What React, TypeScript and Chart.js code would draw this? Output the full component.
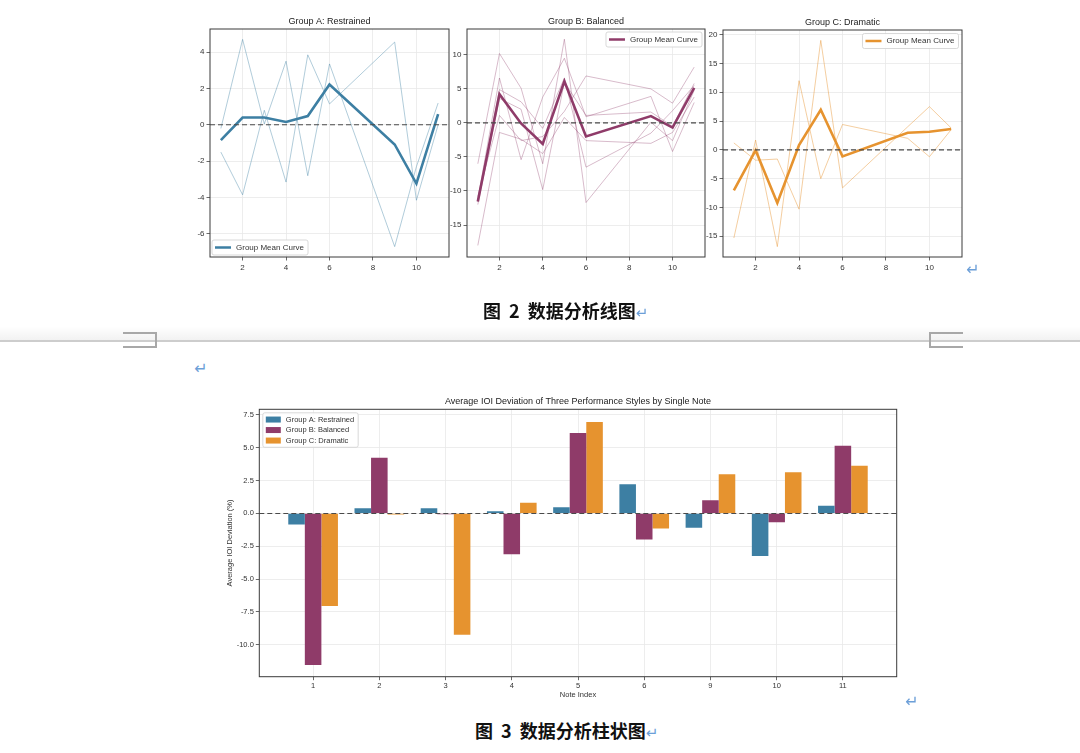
import { useEffect, useRef } from "react";
import { Chart, registerables } from "chart.js";
import type { ChartConfiguration, Plugin } from "chart.js";

Chart.register(...registerables);

const FONT = '"Liberation Sans", Arial, Helvetica, sans-serif';
const CJK = '"Noto Sans CJK SC", "Noto Sans", sans-serif';

Chart.defaults.font.family = FONT;
Chart.defaults.color = "#333";

// measured notes (7 and 8 are not in the data)
const notes = [1, 2, 3, 4, 5, 6, 9, 10, 11];
const noteLabels = ["1", "2", "3", "4", "5", "6", "9", "10", "11"];

// group means, also used for the bars
const meanA = [-0.84, 0.4, 0.4, 0.16, 0.48, 2.22, -1.08, -3.23, 0.59];
const meanB = [-11.53, 4.23, -0.07, -3.1, 6.13, -1.98, 1.01, -0.68, 5.15];
const meanC = [-7.05, -0.08, -9.23, 0.82, 6.96, -1.14, 2.98, 3.14, 3.63];

// single performances
const a1 = [-0.2, 4.7, 0.05, 3.5, -2.8, 3.35, -6.7, -2.3, 1.2];
const a2 = [-1.5, -3.85, 0.8, -3.15, 3.85, 1.15, 4.55, -4.15, 0.0];

const b1 = [-6.0, 10.2, 5.1, -6.0, 12.3, -11.7, 0.1, -2.6, 4.8];
const b2 = [-10.8, 1.1, -2.6, -2.0, 1.7, 6.9, 5.0, 2.9, 8.2];
const b3 = [-11.2, 6.6, -5.4, 3.8, 9.5, 0.9, 3.9, -4.2, 3.0];
const b4 = [-11.6, 4.9, 3.1, -0.8, 6.6, -6.5, -1.5, 1.8, 5.5];
const b5 = [-12.0, 3.6, 2.0, -9.8, 6.0, 1.1, 1.6, -0.5, 5.8];
const b6 = [-18.0, -1.4, -2.4, -4.5, 0.8, -2.6, -3.0, -1.4, 3.8];

const c1 = [1.2, -1.8, -1.6, -10.3, 19.0, -6.6, 4.0, 7.5, 3.8];
const c2 = [-15.3, 1.7, -16.8, 12.0, -5.0, 4.4, 2.0, -1.2, 3.5];

// ticks
const lineXTicks = [2, 4, 6, 8, 10];
const yTicksA = [-6, -4, -2, 0, 2, 4];
const yTicksB = [-15, -10, -5, 0, 5, 10];
const yTicksC = [-15, -10, -5, 0, 5, 10, 15, 20];
const barYTicks = [-10, -7.5, -5, -2.5, 0, 2.5, 5, 7.5];

const colorA = "#3d7fa3";
const colorB = "#8f3b69";
const colorC = "#e6932f";
const RET = "#6c9fd8";

function fade(hex: string, a: number) {
  const n = parseInt(hex.slice(1), 16);
  return `rgba(${(n >> 16) & 255}, ${(n >> 8) & 255}, ${n & 255}, ${a})`;
}

const grid = {
  color: "#e8e8e8",
  lineWidth: 0.8,
  tickColor: "#444",
  tickLength: 3.5,
  tickWidth: 0.8,
  offset: false,
};

function framePlugin(): Plugin {
  return {
    id: "frame",
    afterDatasetsDraw(chart) {
      const { ctx, chartArea: a } = chart;
      ctx.save();
      ctx.strokeStyle = "#3a3a3a";
      ctx.lineWidth = 1;
      ctx.strokeRect(a.left, a.top, a.right - a.left, a.bottom - a.top);
      ctx.restore();
    },
  };
}

function zeroLinePlugin(): Plugin {
  return {
    id: "zeroLine",
    afterDatasetsDraw(chart) {
      const { ctx, chartArea: a, scales } = chart;
      const y = scales.y.getPixelForValue(0);
      ctx.save();
      ctx.beginPath();
      ctx.setLineDash([5, 3]);
      ctx.strokeStyle = "#4a4a4a";
      ctx.lineWidth = 1.1;
      ctx.moveTo(a.left, y);
      ctx.lineTo(a.right, y);
      ctx.stroke();
      ctx.restore();
    },
  };
}

function titlePlugin(text: string, size: number, offset: number): Plugin {
  return {
    id: "axesTitle",
    afterDraw(chart) {
      const { ctx, chartArea: a } = chart;
      ctx.save();
      ctx.font = `${size}px ${FONT}`;
      ctx.fillStyle = "#222";
      ctx.textAlign = "center";
      ctx.textBaseline = "middle";
      ctx.fillText(text, (a.left + a.right) / 2, a.top - offset);
      ctx.restore();
    },
  };
}

type LegendSpec = {
  entries: { label: string; color: string }[];
  corner: "ul" | "ur" | "ll";
  swatch: "line" | "box";
  fontSize: number;
  rowH: number;
  padY: number;
  inset: number;
};

function legendPlugin(spec: LegendSpec): Plugin {
  return {
    id: "innerLegend",
    afterDraw(chart) {
      const { ctx, chartArea: a } = chart;
      ctx.save();
      ctx.font = `${spec.fontSize}px ${FONT}`;
      const textW = Math.max(...spec.entries.map((e) => ctx.measureText(e.label).width));
      const padX = 3;
      const sw = spec.swatch === "line" ? 16 : 15;
      const gap = 5;
      const w = padX + sw + gap + textW + padX + 1;
      const h = spec.padY * 2 + spec.entries.length * spec.rowH;
      const x = spec.corner === "ur" ? a.right - spec.inset - w : a.left + spec.inset;
      const y = spec.corner === "ll" ? a.bottom - spec.inset - h : a.top + spec.inset;
      ctx.beginPath();
      ctx.roundRect(x, y, w, h, 2);
      ctx.fillStyle = "rgba(255,255,255,0.85)";
      ctx.fill();
      ctx.strokeStyle = "#cfcfcf";
      ctx.lineWidth = 0.8;
      ctx.stroke();
      spec.entries.forEach((e, i) => {
        const cy = y + spec.padY + spec.rowH * (i + 0.5);
        if (spec.swatch === "line") {
          ctx.beginPath();
          ctx.strokeStyle = e.color;
          ctx.lineWidth = 2.5;
          ctx.moveTo(x + padX, cy);
          ctx.lineTo(x + padX + sw, cy);
          ctx.stroke();
        } else {
          ctx.fillStyle = e.color;
          ctx.fillRect(x + padX, cy - 3, sw, 6);
        }
        ctx.fillStyle = "#333";
        ctx.textAlign = "left";
        ctx.textBaseline = "middle";
        ctx.fillText(e.label, x + padX + sw + gap, cy);
      });
      ctx.restore();
    },
  };
}

type LineSpec = {
  title: string;
  color: string;
  mean: number[];
  members: number[][];
  memberAlpha: number;
  yMin: number;
  yMax: number;
  yTicks: number[];
  axisW: number;
  padTop: number;
  legend: "ll" | "ur";
  inset: number;
};

function lineConfig(spec: LineSpec): ChartConfiguration {
  const toPts = (ys: number[]) => notes.map((x, i) => ({ x, y: ys[i] }));
  return {
    type: "line",
    data: {
      datasets: [
        { data: toPts(spec.mean), borderColor: spec.color, borderWidth: 2.6 },
        ...spec.members.map((m) => ({
          data: toPts(m),
          borderColor: fade(spec.color, spec.memberAlpha),
          borderWidth: 1,
        })),
      ],
    },
    options: {
      animation: false,
      responsive: true,
      maintainAspectRatio: false,
      events: [],
      elements: { point: { radius: 0 }, line: { tension: 0 } },
      layout: { padding: { top: spec.padTop, right: 6, bottom: 1, left: 0 } },
      plugins: { legend: { display: false }, tooltip: { enabled: false } },
      scales: {
        x: {
          type: "linear",
          min: 0.5,
          max: 11.5,
          afterBuildTicks: (s: any) => {
            s.ticks = lineXTicks.map((value) => ({ value }));
          },
          afterFit: (s: any) => {
            s.height = 16;
          },
          grid,
          border: { display: false },
          ticks: {
            font: { size: 8 },
            color: "#333",
            padding: 2,
            maxRotation: 0,
            autoSkip: false,
            callback: (v: any) => String(v),
          },
        },
        y: {
          type: "linear",
          min: spec.yMin,
          max: spec.yMax,
          afterBuildTicks: (s: any) => {
            s.ticks = spec.yTicks.map((value) => ({ value }));
          },
          afterFit: (s: any) => {
            s.width = spec.axisW;
          },
          grid,
          border: { display: false },
          ticks: {
            font: { size: 8 },
            color: "#333",
            padding: 2,
            autoSkip: false,
            callback: (v: any) => String(v),
          },
        },
      },
    },
    plugins: [
      zeroLinePlugin(),
      framePlugin(),
      titlePlugin(spec.title, 9, 7.5),
      legendPlugin({
        entries: [{ label: "Group Mean Curve", color: spec.color }],
        corner: spec.legend,
        swatch: "line",
        fontSize: 8,
        rowH: 10,
        padY: 2.5,
        inset: spec.inset,
      }),
    ],
  } as ChartConfiguration;
}

function barConfig(): ChartConfiguration {
  const toBars = (ys: number[]) => noteLabels.map((_, i) => ({ x: i, y: ys[i] }));
  return {
    type: "bar",
    data: {
      datasets: [
        { label: "Group A: Restrained", data: toBars(meanA), backgroundColor: colorA },
        { label: "Group B: Balanced", data: toBars(meanB), backgroundColor: colorB },
        { label: "Group C: Dramatic", data: toBars(meanC), backgroundColor: colorC },
      ],
    },
    options: {
      animation: false,
      responsive: true,
      maintainAspectRatio: false,
      events: [],
      layout: { padding: { top: 17.3, right: 13.3, bottom: 10.3, left: 0 } },
      datasets: { bar: { categoryPercentage: 0.75, barPercentage: 1 } },
      plugins: { legend: { display: false }, tooltip: { enabled: false } },
      scales: {
        x: {
          type: "linear",
          min: -0.8125,
          max: 8.8125,
          offset: false,
          afterBuildTicks: (s: any) => {
            s.ticks = noteLabels.map((_, value) => ({ value }));
          },
          afterFit: (s: any) => {
            s.height = 23;
          },
          grid,
          border: { display: false },
          ticks: {
            font: { size: 7.5 },
            color: "#333",
            padding: 1,
            maxRotation: 0,
            autoSkip: false,
            callback: (v: any) => noteLabels[Number(v)],
          },
          title: {
            display: true,
            text: "Note Index",
            font: { size: 7.5 },
            color: "#333",
            padding: { top: 0, bottom: 0 },
          },
        },
        y: {
          type: "linear",
          min: -12.425,
          max: 7.925,
          afterBuildTicks: (s: any) => {
            s.ticks = barYTicks.map((value) => ({ value }));
          },
          afterFit: (s: any) => {
            s.width = 39.3;
          },
          grid,
          border: { display: false },
          ticks: {
            font: { size: 7.5 },
            color: "#333",
            padding: 2,
            autoSkip: false,
            callback: (v: any) => Number(v).toFixed(1),
          },
          title: {
            display: true,
            text: "Average IOI Deviation (%)",
            font: { size: 7.5 },
            color: "#333",
            padding: { top: 5.5, bottom: 0 },
          },
        },
      },
    },
    plugins: [
      zeroLinePlugin(),
      framePlugin(),
      titlePlugin("Average IOI Deviation of Three Performance Styles by Single Note", 9, 7.3),
      legendPlugin({
        entries: [
          { label: "Group A: Restrained", color: colorA },
          { label: "Group B: Balanced", color: colorB },
          { label: "Group C: Dramatic", color: colorC },
        ],
        corner: "ul",
        swatch: "box",
        fontSize: 7.5,
        rowH: 10.5,
        padY: 1.5,
        inset: 3.5,
      }),
    ],
  } as ChartConfiguration;
}

type BoxProps = {
  left: number;
  top: number;
  width: number;
  height: number;
  make: () => ChartConfiguration;
};

function ChartBox({ left, top, width, height, make }: BoxProps) {
  const canvasRef = useRef<HTMLCanvasElement | null>(null);

  useEffect(() => {
    if (!canvasRef.current) return;
    const chart = new Chart(canvasRef.current, make());
    return () => {
      chart.destroy();
    };
  }, []);

  return (
    <div style={{ position: "absolute", left, top, width, height }}>
      <canvas ref={canvasRef} />
    </div>
  );
}

function ReturnMark({ x, y }: { x: number; y: number }) {
  return (
    <div
      style={{
        position: "absolute",
        left: x,
        top: y,
        transform: "translate(-50%, -50%)",
        font: `16px "DejaVu Sans", sans-serif`,
        lineHeight: 1,
        color: RET,
      }}
    >
      ↵
    </div>
  );
}

function Caption({ left, top, text }: { left: number; top: number; text: string }) {
  return (
    <div
      style={{
        position: "absolute",
        left,
        top,
        whiteSpace: "nowrap",
        fontFamily: CJK,
        fontSize: 18,
        fontWeight: 700,
        lineHeight: "20px",
        wordSpacing: 4,
        color: "#111",
      }}
    >
      {text}
      <span style={{ font: `15px "DejaVu Sans", sans-serif`, color: RET }}>↵</span>
    </div>
  );
}

export default function App() {
  return (
    <div
      style={{
        position: "absolute",
        left: 0,
        top: 0,
        width: 1080,
        height: 753,
        background: "#fff",
        overflow: "hidden",
      }}
    >
      <ChartBox
        left={180}
        top={8}
        width={275}
        height={266}
        make={() =>
          lineConfig({
            title: "Group A: Restrained",
            color: colorA,
            mean: meanA,
            members: [a1, a2],
            memberAlpha: 0.4,
            yMin: -7.27,
            yMax: 5.27,
            yTicks: yTicksA,
            axisW: 30,
            padTop: 21,
            legend: "ll",
            inset: 2,
          })
        }
      />
      <ChartBox
        left={445}
        top={8}
        width={266}
        height={266}
        make={() =>
          lineConfig({
            title: "Group B: Balanced",
            color: colorB,
            mean: meanB,
            members: [b1, b2, b3, b4, b5, b6],
            memberAlpha: 0.35,
            yMin: -19.7,
            yMax: 13.8,
            yTicks: yTicksB,
            axisW: 22,
            padTop: 21,
            legend: "ur",
            inset: 3,
          })
        }
      />
      <ChartBox
        left={700}
        top={8}
        width={268}
        height={266}
        make={() =>
          lineConfig({
            title: "Group C: Dramatic",
            color: colorC,
            mean: meanC,
            members: [c1, c2],
            memberAlpha: 0.45,
            yMin: -18.6,
            yMax: 20.8,
            yTicks: yTicksC,
            axisW: 23,
            padTop: 22,
            legend: "ur",
            inset: 3.5,
          })
        }
      />
      <ReturnMark x={973} y={270} />
      <Caption left={483} top={300} text="图 2 数据分析线图" />

      {/* page break */}
      <div
        style={{
          position: "absolute",
          left: 0,
          top: 326,
          width: 1080,
          height: 14,
          background: "linear-gradient(to bottom, rgba(0,0,0,0), rgba(0,0,0,0.05))",
        }}
      />
      <div style={{ position: "absolute", left: 0, top: 340, width: 1080, height: 2, background: "#cdcdcd" }} />
      <div
        style={{
          position: "absolute",
          left: 123,
          top: 332,
          width: 32,
          height: 12,
          border: "2px solid #a8a8a8",
          borderLeft: "none",
        }}
      />
      <div
        style={{
          position: "absolute",
          left: 929,
          top: 332,
          width: 32,
          height: 12,
          border: "2px solid #a8a8a8",
          borderRight: "none",
        }}
      />
      <ReturnMark x={201} y={369} />

      <ChartBox left={220} top={392} width={690} height={318} make={barConfig} />
      <ReturnMark x={912} y={702} />
      <Caption left={475} top={720} text="图 3 数据分析柱状图" />
    </div>
  );
}
